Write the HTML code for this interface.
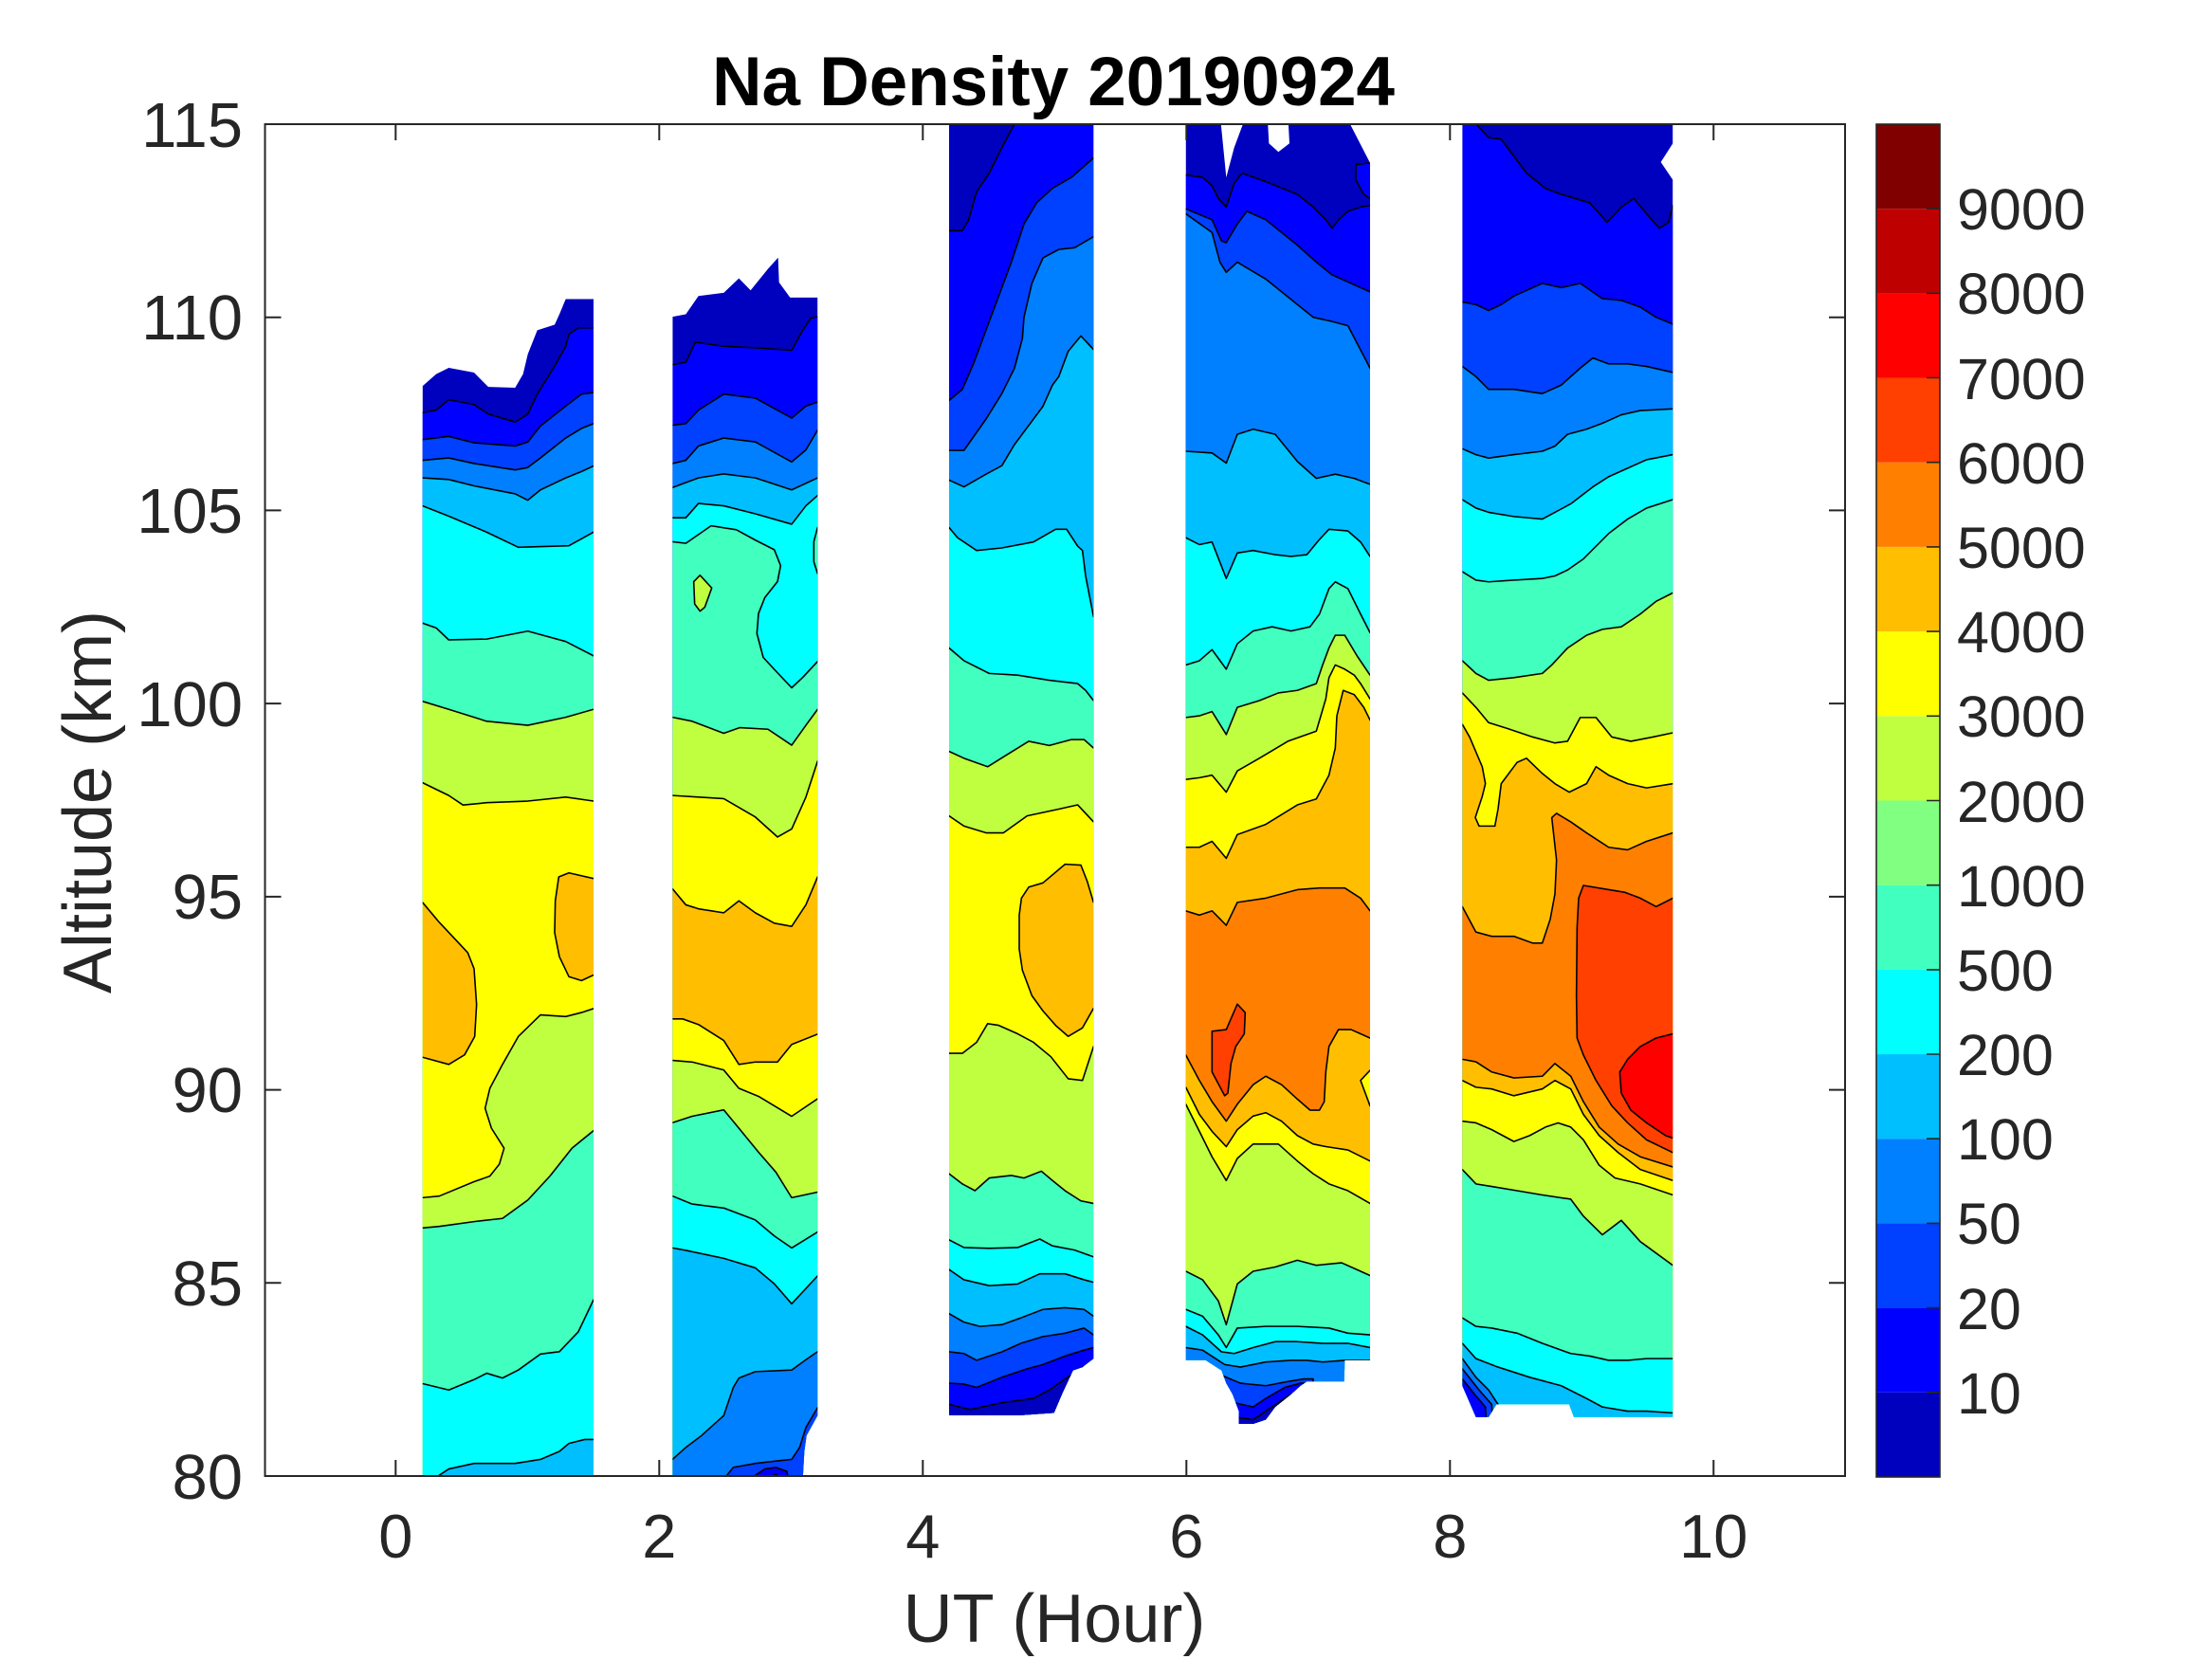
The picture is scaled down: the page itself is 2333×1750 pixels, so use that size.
<!DOCTYPE html>
<html>
<head>
<meta charset="utf-8">
<style>
html,body{margin:0;padding:0;background:#fff;width:2333px;height:1750px;overflow:hidden;}
svg{display:block;}
.c polygon{stroke:#000;stroke-width:1.6px;vector-effect:non-scaling-stroke;stroke-linejoin:round;}
.t{font-family:"Liberation Sans",Arial,Helvetica,sans-serif;fill:#262626;}
</style>
</head>
<body>
<svg width="2333" height="1750" viewBox="0 0 2333 1750" xmlns="http://www.w3.org/2000/svg">
<rect x="0" y="0" width="2333" height="1750" fill="#fff"/>
<defs>
  <clipPath id="ax"><rect x="279.5" y="131" width="1666.5" height="1426"/></clipPath>
  <clipPath id="k1" clipPathUnits="userSpaceOnUse"><polygon points="47,175 90,160 130,152 210,158 255,176 340,177 365,160 380,135 410,105 465,98 480,85 500,66 588,66 588,1580 47,1580"/></clipPath>
  <clipPath id="k2" clipPathUnits="userSpaceOnUse"><polygon points="838,88 880,85 920,62 1000,58 1048,40 1085,55 1140,28 1172,14 1175,45 1210,64 1297,64 1297,1465 1262,1490 1255,1510 1245,1580 838,1580"/></clipPath>
  <clipPath id="k3" clipPathUnits="userSpaceOnUse"><polygon points="33,0 490,0 490,1468 455,1478 425,1482 390,1510 365,1532 250,1535 33,1535"/></clipPath>
  <clipPath id="k4" clipPathUnits="userSpaceOnUse"><polygon points="47,0 155,0 175,75 200,40 240,0 305,0 310,35 340,45 375,35 370,0 550,0 630,58 630,1470 550,1470 548,1495 430,1495 410,1500 380,1510 330,1525 300,1540 260,1545 215,1545 215,1530 195,1510 175,1497 160,1482 110,1470 47,1470"/></clipPath>
  <clipPath id="k5" clipPathUnits="userSpaceOnUse"><polygon points="37,0 703,0 703,35 665,57 703,78 703,1537 390,1537 375,1522 145,1522 120,1537 80,1537 37,1500"/></clipPath>
</defs>

<g clip-path="url(#ax)">
<!-- Columns 1 and 2 -->
<g transform="translate(430,260) scale(0.333333,0.84175)">
  <g clip-path="url(#k1)" class="c">
    <rect x="0" y="0" width="650" height="2000" fill="#0000BF"/>
    <polygon fill="#0000FF" points="47,208 90,205 130,192 210,198 255,210 340,220 380,210 410,185 465,150 500,125 510,110 540,102 588,102 618,102 618,2000 17,2000 17,208"/>
    <polygon fill="#0040FF" points="47,242 130,238 210,246 340,250 380,245 420,225 500,200 550,185 588,183 618,183 618,2000 17,2000 17,242"/>
    <polygon fill="#0080FF" points="47,268 130,265 210,272 340,280 380,277 420,265 500,240 550,228 588,222 618,222 618,2000 17,2000 17,268"/>
    <polygon fill="#00BFFF" points="47,290 130,292 210,300 340,310 380,318 420,305 500,290 550,282 588,275 618,275 618,2000 17,2000 17,290"/>
    <polygon fill="#00FFFF" points="47,325 130,338 250,358 350,377 510,375 588,358 618,358 618,2000 17,2000 17,325"/>
    <polygon fill="#40FFBF" points="47,472 90,478 130,493 250,492 380,482 500,495 588,513 618,513 618,2000 17,2000 17,472"/>
    <polygon fill="#BFFF40" points="47,570 130,580 250,595 380,600 500,590 588,580 618,580 618,2000 17,2000 17,570"/>
    <polygon fill="#FFFF00" points="47,672 130,688 175,700 250,697 380,695 500,690 588,695 618,695 618,2000 17,2000 17,672"/>
    <polygon fill="#FFBF00" points="17,822 47,822 100,847 150,868 190,885 210,905 218,950 212,990 180,1013 130,1025 47,1016 17,1016"/>
    <polygon fill="#FFBF00" points="618,792 588,792 510,785 478,790 467,820 465,860 480,890 510,915 550,920 588,913 618,913"/>
    <polygon fill="#BFFF40" points="47,1192 100,1190 210,1172 260,1165 290,1150 305,1130 265,1105 245,1080 260,1055 300,1025 350,990 420,963 500,965 550,960 588,955 618,955 618,2000 17,2000 17,1192"/>
    <polygon fill="#40FFBF" points="47,1230 100,1228 210,1222 300,1218 380,1195 450,1165 520,1130 588,1108 618,1108 618,2000 17,2000 17,1230"/>
    <polygon fill="#00FFFF" points="47,1425 130,1433 210,1420 250,1412 300,1418 350,1408 420,1388 480,1385 540,1360 588,1320 618,1320 618,2000 17,2000 17,1425"/>
    <polygon fill="#00BFFF" points="60,1560 80,1545 130,1532 210,1525 340,1525 420,1520 480,1510 510,1500 560,1495 588,1495 618,1495 618,2000 17,2000 17,1560"/>
  </g>
  <g clip-path="url(#k2)" class="c">
    <rect x="800" y="0" width="550" height="2000" fill="#0000BF"/>
    <polygon fill="#0000FF" points="838,148 880,145 910,120 1000,125 1100,127 1215,130 1250,105 1275,90 1297,88 1327,88 1327,2000 808,2000 808,148"/>
    <polygon fill="#0040FF" points="838,224 880,222 920,205 1000,185 1100,190 1215,215 1260,200 1297,195 1327,195 1327,2000 808,2000 808,224"/>
    <polygon fill="#0080FF" points="838,272 880,268 920,250 1000,240 1100,245 1215,270 1260,255 1297,230 1327,230 1327,2000 808,2000 808,272"/>
    <polygon fill="#00BFFF" points="838,302 920,290 1000,285 1100,290 1215,305 1297,290 1327,290 1327,2000 808,2000 808,302"/>
    <polygon fill="#00FFFF" points="838,340 880,340 920,322 1000,325 1100,335 1215,348 1260,325 1297,312 1327,312 1327,2000 808,2000 808,340"/>
    <polygon fill="#40FFBF" points="838,370 880,372 960,350 1040,355 1100,368 1160,380 1180,400 1170,420 1130,440 1110,460 1105,485 1125,515 1160,530 1215,553 1250,540 1297,520 1327,520 1327,2000 808,2000 808,370"/>
    <polygon fill="#40FFBF" points="1327,355 1297,352 1285,370 1285,395 1297,410 1327,410"/>
    <polygon fill="#BFFF40" points="905,420 925,412 962,428 940,452 925,457 908,448"/>
    <polygon fill="#BFFF40" points="838,590 900,595 1000,610 1050,603 1140,605 1215,625 1260,600 1297,580 1327,580 1327,2000 808,2000 808,590"/>
    <polygon fill="#FFFF00" points="838,688 920,690 1000,692 1100,715 1170,740 1215,730 1260,690 1297,645 1327,645 1327,2000 808,2000 808,688"/>
    <polygon fill="#FFBF00" points="838,805 880,825 920,830 1000,835 1048,820 1100,835 1160,848 1215,852 1260,825 1297,790 1327,790 1327,2000 808,2000 808,805"/>
    <polygon fill="#FFFF00" points="838,968 870,968 920,975 1000,995 1048,1025 1100,1022 1170,1022 1215,1000 1297,987 1327,987 1327,2000 808,2000 808,968"/>
    <polygon fill="#BFFF40" points="838,1020 900,1022 1000,1032 1048,1055 1110,1065 1215,1090 1297,1068 1327,1068 1327,2000 808,2000 808,1020"/>
    <polygon fill="#40FFBF" points="838,1098 900,1090 1000,1082 1048,1105 1110,1135 1165,1160 1215,1192 1297,1185 1327,1185 1327,2000 808,2000 808,1098"/>
    <polygon fill="#00FFFF" points="838,1190 900,1200 1000,1205 1100,1220 1160,1240 1215,1255 1297,1235 1327,1235 1327,2000 808,2000 808,1190"/>
    <polygon fill="#00BFFF" points="838,1255 880,1258 1000,1268 1100,1280 1160,1300 1215,1325 1297,1290 1327,1290 1327,2000 808,2000 808,1255"/>
    <polygon fill="#0080FF" points="838,1520 880,1505 930,1490 1000,1465 1030,1430 1048,1418 1100,1410 1215,1408 1260,1395 1297,1385 1327,1385 1327,2000 808,2000 808,1520"/>
    <polygon fill="#0040FF" points="990,1600 1010,1540 1030,1530 1100,1525 1165,1522 1215,1520 1240,1505 1260,1480 1297,1455 1327,1455 1327,2000 990,2000"/>
    <polygon fill="#0000FF" points="1090,1600 1100,1540 1130,1532 1165,1530 1200,1535 1230,1600"/>
    <polygon fill="#0000BF" points="1125,1600 1138,1542 1165,1539 1190,1545 1205,1600"/>
  </g>
</g>

<!-- Column 3 -->
<g transform="translate(990,120) scale(0.333333,0.8945)">
  <g clip-path="url(#k3)" class="c">
    <rect x="0" y="0" width="530" height="2000" fill="#0000BF"/>
    <polygon fill="#0000FF" points="33,138 75,138 95,125 120,92 160,70 200,40 240,12 250,-30 520,-30 520,2000 3,2000 3,138"/>
    <polygon fill="#0040FF" points="33,338 75,325 110,295 150,255 190,215 230,175 270,130 310,105 360,88 420,75 460,62 490,52 520,52 520,2000 3,2000 3,338"/>
    <polygon fill="#0080FF" points="33,397 80,397 150,360 200,330 240,300 265,265 270,240 295,200 330,170 380,160 430,158 490,145 520,145 520,2000 3,2000 3,397"/>
    <polygon fill="#00BFFF" points="33,432 80,440 150,425 200,415 240,390 280,370 330,345 360,320 380,310 410,280 450,262 490,278 520,278 520,2000 3,2000 3,432"/>
    <polygon fill="#00FFFF" points="33,488 60,500 120,515 200,512 300,505 370,490 405,490 440,510 455,515 465,545 490,593 520,593 520,2000 3,2000 3,488"/>
    <polygon fill="#40FFBF" points="33,630 80,645 160,660 250,662 350,668 440,672 465,680 490,692 520,692 520,2000 3,2000 3,630"/>
    <polygon fill="#BFFF40" points="33,752 80,760 155,770 220,755 285,740 350,745 420,738 460,738 490,748 520,748 520,2000 3,2000 3,752"/>
    <polygon fill="#FFFF00" points="33,828 80,840 150,848 205,848 280,828 380,820 440,815 490,835 520,835 520,2000 3,2000 3,828"/>
    <polygon fill="#FFBF00" points="255,945 262,925 285,912 330,907 400,885 450,886 470,905 490,930 520,930 520,1055 490,1055 455,1078 410,1088 370,1075 330,1058 295,1040 265,1010 255,985"/>
    <polygon fill="#BFFF40" points="33,1108 75,1108 120,1095 155,1073 190,1075 250,1085 300,1095 355,1112 410,1138 455,1140 490,1100 520,1100 520,2000 3,2000 3,1108"/>
    <polygon fill="#40FFBF" points="33,1250 75,1262 115,1270 160,1255 230,1252 270,1255 325,1247 360,1258 400,1270 450,1282 490,1285 520,1285 520,2000 3,2000 3,1250"/>
    <polygon fill="#00FFFF" points="33,1328 80,1337 160,1338 250,1337 320,1327 360,1335 430,1340 490,1348 520,1348 520,2000 3,2000 3,1328"/>
    <polygon fill="#00BFFF" points="33,1363 80,1375 160,1382 250,1380 320,1368 400,1368 460,1375 490,1378 520,1378 520,2000 3,2000 3,1363"/>
    <polygon fill="#0080FF" points="33,1415 80,1425 130,1430 200,1428 260,1420 330,1410 400,1408 460,1410 490,1418 520,1418 520,2000 3,2000 3,1415"/>
    <polygon fill="#0040FF" points="33,1460 80,1462 120,1470 200,1460 260,1450 330,1442 400,1438 460,1432 490,1440 520,1440 520,2000 3,2000 3,1460"/>
    <polygon fill="#0000FF" points="33,1497 80,1498 120,1502 200,1490 280,1480 330,1475 400,1465 460,1458 490,1455 520,1455 520,2000 3,2000 3,1497"/>
    <polygon fill="#0000BF" points="33,1522 100,1528 200,1520 300,1515 350,1505 400,1492 440,1482 490,1470 520,1470 520,2000 3,2000 3,1522"/>
  </g>
</g>

<!-- Column 4 -->
<g transform="translate(1235,120) scale(0.333333,0.8945)">
  <g clip-path="url(#k4)" class="c">
    <rect x="0" y="0" width="700" height="2000" fill="#0000BF"/>
    <polygon fill="#0000FF" points="47,72 100,75 130,85 150,100 175,110 200,82 225,70 300,80 400,95 450,110 490,125 510,135 530,125 560,115 600,110 630,108 660,108 660,2000 17,2000 17,72"/>
    <polygon fill="#0000FF" points="585,60 625,58 660,58 660,100 630,100 610,95 585,78"/>
    <polygon fill="#0040FF" points="47,112 130,125 160,150 175,152 210,130 240,115 300,125 400,155 460,175 510,190 630,210 660,210 660,2000 17,2000 17,112"/>
    <polygon fill="#0080FF" points="47,118 130,140 155,175 175,187 210,175 300,195 400,225 450,240 510,245 560,250 630,300 660,300 660,2000 17,2000 17,118"/>
    <polygon fill="#00BFFF" points="47,398 130,400 175,412 210,378 260,372 330,378 400,410 460,430 520,425 580,430 630,437 660,437 660,2000 17,2000 17,398"/>
    <polygon fill="#00FFFF" points="47,500 90,508 130,505 175,548 210,518 260,515 330,520 380,522 430,520 470,502 500,490 560,492 600,505 630,522 660,522 660,2000 17,2000 17,500"/>
    <polygon fill="#40FFBF" points="47,650 90,645 130,632 175,655 210,625 260,610 320,605 380,610 440,605 470,590 500,560 520,552 560,560 600,590 630,612 660,612 660,2000 17,2000 17,650"/>
    <polygon fill="#BFFF40" points="47,712 90,710 130,705 175,732 210,700 280,692 340,683 400,680 460,672 480,650 500,630 520,615 550,615 590,640 630,662 660,662 660,2000 17,2000 17,712"/>
    <polygon fill="#FFFF00" points="47,785 90,783 130,780 175,800 210,775 280,760 370,740 460,728 490,690 500,665 520,650 550,655 580,662 600,672 630,690 660,690 660,2000 17,2000 17,785"/>
    <polygon fill="#FFBF00" points="47,865 90,865 130,858 175,878 210,850 300,838 400,815 460,808 500,780 520,748 525,710 545,680 580,685 610,700 630,715 660,715 660,2000 17,2000 17,865"/>
    <polygon fill="#FF8000" points="47,940 90,945 130,940 175,957 210,930 300,925 400,915 470,913 550,913 600,925 630,940 660,940 660,2000 17,2000 17,940"/>
    <polygon fill="#FFBF00" points="47,1110 90,1140 130,1165 175,1188 210,1168 260,1145 300,1135 350,1145 400,1162 440,1175 470,1175 485,1165 490,1130 500,1100 530,1080 570,1080 600,1085 630,1090 660,1090 660,2000 17,2000 17,1110"/>
    <polygon fill="#FFFF00" points="47,1148 90,1180 130,1200 175,1218 210,1198 260,1182 300,1178 350,1188 400,1205 450,1215 490,1218 560,1222 630,1235 660,1235 660,2000 17,2000 17,1148"/>
    <polygon fill="#BFFF40" points="47,1168 90,1200 130,1230 175,1258 210,1232 260,1215 340,1215 400,1235 450,1250 500,1262 560,1270 630,1285 660,1285 660,2000 17,2000 17,1168"/>
    <polygon fill="#40FFBF" points="47,1365 100,1375 150,1400 175,1428 210,1380 260,1365 330,1360 400,1352 460,1358 540,1355 600,1365 630,1370 660,1370 660,2000 17,2000 17,1365"/>
    <polygon fill="#00FFFF" points="47,1410 100,1418 150,1440 175,1455 210,1432 300,1430 400,1430 500,1432 560,1438 630,1440 660,1440 660,2000 17,2000 17,1410"/>
    <polygon fill="#00BFFF" points="47,1430 100,1440 160,1460 200,1462 260,1455 330,1448 400,1448 480,1450 560,1450 630,1455 660,1455 660,2000 17,2000 17,1430"/>
    <polygon fill="#0080FF" points="47,1455 100,1458 170,1475 220,1478 300,1472 380,1470 430,1470 480,1472 550,1470 660,1470 660,2000 17,2000 17,1455"/>
    <polygon fill="#0040FF" points="150,1486 220,1497 300,1500 370,1495 420,1492 450,1492 450,1700 150,1700"/>
    <polygon fill="#0000FF" points="200,1520 260,1525 300,1515 360,1502 410,1497 450,1497 450,1700 200,1700"/>
    <polygon fill="#0000BF" points="205,1537 260,1540 300,1530 360,1515 380,1510 450,1510 450,1700 205,1700"/>
    <polygon fill="#FF4000" points="130,1082 175,1080 210,1050 235,1060 232,1085 205,1100 190,1120 180,1155 170,1158 130,1130"/>
    <polygon fill="#FFFF00" points="660,1128 630,1128 600,1140 615,1155 630,1170 660,1170"/>
  </g>
</g>

<!-- Column 5 -->
<g transform="translate(1530,120) scale(0.333333,0.8945)">
  <g clip-path="url(#k5)" class="c">
    <rect x="0" y="0" width="760" height="2000" fill="#0000BF"/>
    <polygon fill="#0000FF" points="7,-30 80,-30 80,12 120,28 160,30 200,50 240,70 300,88 350,95 440,105 495,128 540,110 580,100 620,118 660,135 690,128 703,108 733,108 733,2000 7,2000"/>
    <polygon fill="#0040FF" points="37,222 80,225 120,232 160,225 200,215 290,200 350,205 410,200 480,218 540,220 600,228 650,240 703,248 733,248 733,2000 7,2000 7,222"/>
    <polygon fill="#0080FF" points="37,298 80,310 120,325 200,325 290,330 350,320 410,300 450,288 500,295 560,295 620,298 703,305 733,305 733,2000 7,2000 7,298"/>
    <polygon fill="#00BFFF" points="37,395 80,402 120,406 200,402 290,398 330,392 370,378 430,372 480,365 540,355 600,350 703,348 733,348 733,2000 7,2000 7,395"/>
    <polygon fill="#00FFFF" points="37,455 80,465 120,470 200,475 290,478 330,470 380,460 450,440 500,428 560,418 620,408 703,402 733,402 733,2000 7,2000 7,455"/>
    <polygon fill="#40FFBF" points="37,540 80,550 120,552 200,550 290,548 330,545 370,538 420,525 460,510 500,495 560,478 620,465 703,455 733,455 733,2000 7,2000 7,540"/>
    <polygon fill="#BFFF40" points="37,645 80,660 120,668 200,665 290,660 320,650 370,630 430,615 480,608 540,605 600,590 650,575 703,565 733,565 733,2000 7,2000 7,645"/>
    <polygon fill="#FFFF00" points="37,683 80,700 120,718 180,725 260,735 330,742 370,740 410,712 460,712 510,735 570,740 640,735 703,730 733,730 733,2000 7,2000 7,683"/>
    <polygon fill="#FFBF00" points="37,720 60,735 100,770 110,790 100,805 78,830 90,840 140,840 150,820 160,790 210,765 240,760 290,778 330,790 375,800 430,790 460,770 500,780 560,790 620,795 703,790 733,790 733,2000 7,2000 7,720"/>
    <polygon fill="#FF8000" points="37,935 80,965 130,970 200,970 260,978 290,978 315,950 330,920 335,880 320,830 335,825 380,835 430,848 500,865 560,868 620,858 703,848 733,848 733,2000 7,2000 7,935"/>
    <polygon fill="#FFBF00" points="37,1115 80,1118 130,1130 200,1137 290,1135 330,1120 380,1135 420,1165 470,1195 530,1215 600,1230 703,1242 733,1242 733,2000 7,2000 7,1115"/>
    <polygon fill="#FFFF00" points="37,1140 80,1148 130,1150 200,1158 290,1150 330,1140 380,1150 420,1180 470,1205 530,1225 600,1245 703,1258 733,1258 733,2000 7,2000 7,1140"/>
    <polygon fill="#BFFF40" points="37,1188 80,1190 130,1198 200,1212 250,1205 300,1195 340,1190 380,1195 420,1210 470,1240 520,1255 600,1262 703,1275 733,1275 733,2000 7,2000 7,1188"/>
    <polygon fill="#40FFBF" points="37,1245 80,1262 130,1265 210,1270 290,1275 380,1280 420,1300 480,1322 540,1305 600,1330 703,1358 733,1358 733,2000 7,2000 7,1245"/>
    <polygon fill="#00FFFF" points="37,1420 80,1430 130,1432 210,1438 290,1450 380,1462 440,1465 500,1470 560,1470 620,1468 703,1468 733,1468 733,2000 7,2000 7,1420"/>
    <polygon fill="#00BFFF" points="37,1450 80,1468 150,1478 250,1490 350,1500 430,1515 480,1525 560,1530 620,1530 703,1532 733,1532 733,2000 7,2000 7,1450"/>
    <polygon fill="#0080FF" points="37,1468 80,1490 120,1505 150,1522 160,1600 7,1600 7,1468"/>
    <polygon fill="#0040FF" points="37,1480 90,1505 130,1522 140,1600 7,1600 7,1480"/>
    <polygon fill="#0000FF" points="37,1492 80,1512 110,1525 120,1600 7,1600 7,1492"/>
    <polygon fill="#FF4000" points="733,925 703,925 650,935 600,925 550,918 500,915 420,910 405,925 400,960 398,1040 400,1090 420,1110 460,1140 510,1170 560,1190 620,1210 703,1225 733,1225"/>
    <polygon fill="#FF0000" points="733,1085 703,1085 650,1090 600,1100 560,1115 535,1130 540,1155 570,1175 620,1190 680,1205 703,1208 733,1208"/>
  </g>
</g>
</g>

<!-- Axes box -->
<g stroke="#262626" stroke-width="2" fill="none">
  <rect x="279.5" y="131" width="1666.5" height="1426"/>
  <path d="M417.3,1557v-17M695.3,1557v-17M973.3,1557v-17M1251.3,1557v-17M1529.3,1557v-17M1807.3,1557v-17"/>
  <path d="M417.3,131v17M695.3,131v17M973.3,131v17M1251.3,131v17M1529.3,131v17M1807.3,131v17"/>
  <path d="M279.5,1353.3h17M279.5,1149.6h17M279.5,945.9h17M279.5,742.1h17M279.5,538.4h17M279.5,334.7h17"/>
  <path d="M1946,1353.3h-17M1946,1149.6h-17M1946,945.9h-17M1946,742.1h-17M1946,538.4h-17M1946,334.7h-17"/>
</g>

<!-- Tick labels -->
<g class="t" font-size="67" text-anchor="end">
  <text x="256" y="1581">80</text>
  <text x="256" y="1377">85</text>
  <text x="256" y="1173">90</text>
  <text x="256" y="969">95</text>
  <text x="256" y="766">100</text>
  <text x="256" y="562">105</text>
  <text x="256" y="358">110</text>
  <text x="256" y="155">115</text>
</g>
<g class="t" font-size="65" text-anchor="middle">
  <text x="417.3" y="1643">0</text>
  <text x="695.3" y="1643">2</text>
  <text x="973.3" y="1643">4</text>
  <text x="1251.3" y="1643">6</text>
  <text x="1529.3" y="1643">8</text>
  <text x="1807.3" y="1643">10</text>
</g>

<!-- Axis labels & title -->
<text class="t" x="1112" y="1732" font-size="72" text-anchor="middle">UT (Hour)</text>
<text class="t" transform="translate(117,846) rotate(-90)" font-size="72" text-anchor="middle">Altitude (km)</text>
<text x="1111" y="111" font-family="'Liberation Sans',Arial,Helvetica,sans-serif" font-weight="bold" font-size="73" fill="#000" text-anchor="middle" textLength="720" lengthAdjust="spacingAndGlyphs">Na Density 20190924</text>

<!-- Colorbar -->
<g>
  <rect x="1979" y="1468.8" width="67" height="89.2" fill="#0000BF"/>
  <rect x="1979" y="1379.6" width="67" height="89.2" fill="#0000FF"/>
  <rect x="1979" y="1290.4" width="67" height="89.2" fill="#0040FF"/>
  <rect x="1979" y="1201.2" width="67" height="89.2" fill="#0080FF"/>
  <rect x="1979" y="1112.0" width="67" height="89.2" fill="#00BFFF"/>
  <rect x="1979" y="1022.9" width="67" height="89.2" fill="#00FFFF"/>
  <rect x="1979" y="933.7" width="67" height="89.2" fill="#40FFBF"/>
  <rect x="1979" y="844.5" width="67" height="89.2" fill="#80FF80"/>
  <rect x="1979" y="755.3" width="67" height="89.2" fill="#BFFF40"/>
  <rect x="1979" y="666.1" width="67" height="89.2" fill="#FFFF00"/>
  <rect x="1979" y="576.9" width="67" height="89.2" fill="#FFBF00"/>
  <rect x="1979" y="487.7" width="67" height="89.2" fill="#FF8000"/>
  <rect x="1979" y="398.5" width="67" height="89.2" fill="#FF4000"/>
  <rect x="1979" y="309.3" width="67" height="89.2" fill="#FF0000"/>
  <rect x="1979" y="220.2" width="67" height="89.2" fill="#BF0000"/>
  <rect x="1979" y="131" width="67" height="89.2" fill="#800000"/>
  <rect x="1979" y="131" width="67" height="1427" fill="none" stroke="#262626" stroke-width="1.6"/>
  <path stroke="#262626" stroke-width="1.6" fill="none" d="M2046,1468.8h-14M2046,1379.6h-14M2046,1290.4h-14M2046,1201.2h-14M2046,1112h-14M2046,1022.9h-14M2046,933.7h-14M2046,844.5h-14M2046,755.3h-14M2046,666.1h-14M2046,576.9h-14M2046,487.7h-14M2046,398.5h-14M2046,309.3h-14M2046,220.2h-14"/>
</g>
<g class="t" font-size="61">
  <text x="2064" y="1491">10</text>
  <text x="2064" y="1402">20</text>
  <text x="2064" y="1312">50</text>
  <text x="2064" y="1223">100</text>
  <text x="2064" y="1134">200</text>
  <text x="2064" y="1045">500</text>
  <text x="2064" y="956">1000</text>
  <text x="2064" y="867">2000</text>
  <text x="2064" y="777">3000</text>
  <text x="2064" y="688">4000</text>
  <text x="2064" y="599">5000</text>
  <text x="2064" y="510">6000</text>
  <text x="2064" y="421">7000</text>
  <text x="2064" y="331">8000</text>
  <text x="2064" y="242">9000</text>
</g>
</svg>
</body>
</html>
